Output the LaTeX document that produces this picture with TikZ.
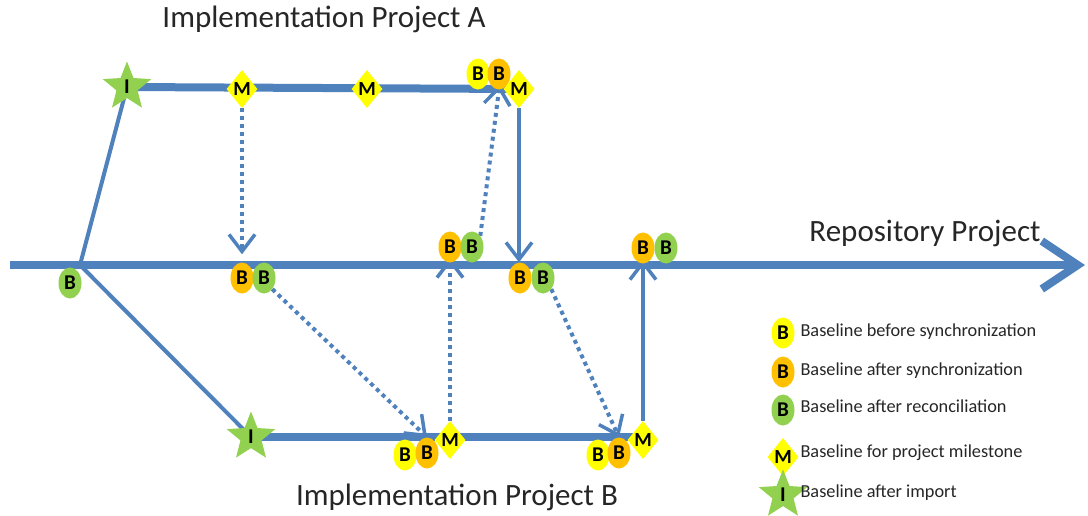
\documentclass[tikz,border=0pt]{standalone}
\usepackage{fontspec}
\setmainfont{Carlito}
\usetikzlibrary{shapes.geometric,arrows.meta,backgrounds}
\definecolor{lblue}{HTML}{4F81BD}
\definecolor{byel}{HTML}{FFFF00}
\definecolor{bora}{HTML}{FFC000}
\definecolor{bgrn}{HTML}{92D050}
\tikzset{
  bl/.style={ellipse,inner sep=0pt,minimum width=23pt,minimum height=31pt,font=\fontsize{21}{21}\selectfont\bfseries},
  yb/.style={bl,fill=byel},
  ob/.style={bl,fill=bora},
  gb/.style={bl,fill=bgrn},
  ms/.style={diamond,fill=byel,inner sep=0pt,minimum width=31pt,minimum height=38pt,font=\fontsize{20}{20}\selectfont\bfseries},
  st/.style={star,star points=5,star point ratio=2.3,fill=bgrn,inner sep=0pt,minimum size=51pt,font=\fontsize{21}{21}\selectfont\bfseries},
  thickline/.style={draw=lblue,line width=8pt},
  thinline/.style={draw=lblue,line width=4pt},
  dotline/.style={draw=lblue,line width=4pt,dash pattern=on 4pt off 4pt},
  sarrow/.style={-{Straight Barb[length=17pt,width=26pt,line width=3.5pt]}},
  title/.style={font=\fontsize{31}{31}\selectfont,text=black!85},
  legtext/.style={anchor=west,font=\fontsize{18.3}{19}\selectfont,text=black!85},
}
\begin{document}
\begin{tikzpicture}[x=1pt,y=-1pt]
\useasboundingbox (0,0) rectangle (1088,515);
% coordinates
\coordinate (rs) at (10,265);
\coordinate (re) at (1085,265);
\coordinate (root) at (80,265);
% Project A
\node[st] (starA) at (127,87) {I};
\node[ms] (MA1) at (242,89) {M};
\node[ms] (MA2) at (367,89) {M};
\node[yb] (ybA) at (478,74) {B};
\node[ob] (obA) at (499,74) {B};
\node[ms] (MA3) at (519,89) {M};
% Repository
\node[gb] (gB0) at (70,283) {B};
\node[ob] (rO1) at (242,278) {B};
\node[gb] (rG1) at (264,278) {B};
\node[ob] (rO2) at (450,247) {B};
\node[gb] (rG2) at (472,247) {B};
\node[ob] (rO3) at (520,278) {B};
\node[gb] (rG3) at (543,278) {B};
\node[ob] (rO4) at (643,248) {B};
\node[gb] (rG4) at (666,248) {B};
% Project B
\node[st] (starB) at (251,437) {I};
\node[yb] (yB1) at (405,455) {B};
\node[ob] (oB1) at (427,453) {B};
\node[ms] (MB1) at (450,440) {M};
\node[yb] (yB2) at (598,455) {B};
\node[ob] (oB2) at (619,453) {B};
\node[ms] (MB2) at (643,440) {M};
% Titles
\node[title] (tA) at (324,19) {Implementation Project A};
\node[title] (tB) at (457,497) {Implementation Project B};
\node[title] (tR) at (925,233) {Repository Project};
% Legend
\node[yb] (lY) at (783,333) {B};
\node[legtext] (lYt) at (797,332) {Baseline before synchronization};
\node[ob] (lO) at (783,372) {B};
\node[legtext] (lOt) at (797,371) {Baseline after synchronization};
\node[gb] (lG) at (783,410) {B};
\node[legtext] (lGt) at (797,406) {Baseline after reconciliation};
\node[ms] (lM) at (783,457) {M};
\node[legtext] (lMt) at (797,453) {Baseline for project milestone};
\node[st] (lS) at (783,495) {I};
\node[legtext] (lSt) at (797,493) {Baseline after import};
\begin{pgfonlayer}{background}
\draw[thickline,-{Straight Barb[length=36pt,width=48pt,line width=8pt]}] (rs) -- (re);
\draw[thinline] (root) -- (starA.center);
\draw[thinline] (root) -- (starB.center);
\draw[thickline] (starA.center) -- (MA3.center);
\draw[thickline] (starB.center) -- (starB.center -| MB2.center);
\draw[thinline,sarrow] (MA3.south) -- (MA3.south |- rO3.north);
\draw[thinline,sarrow,shorten >=-4pt] (MB2.north) -- (MB2.north |- rO4.south);
\draw[dotline,sarrow,shorten >=8pt] (MA1.south) -- (rO1.north);
\draw[dotline,sarrow] (rG1.south east) -- (oB1.north);
\draw[dotline,sarrow,shorten >=-5pt] (MB1.north) -- (rO2.south);
\draw[dotline,sarrow,shorten >=-5pt] (rG2.north east) -- (obA.south);
\draw[dotline,sarrow] (rG3.south east) -- (oB2.north);
\end{pgfonlayer}
\end{tikzpicture}
\end{document}
